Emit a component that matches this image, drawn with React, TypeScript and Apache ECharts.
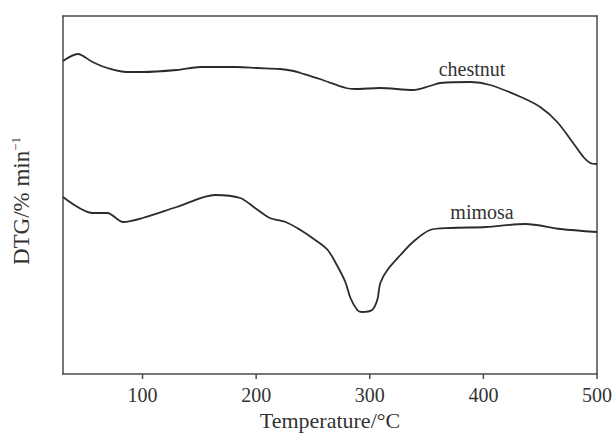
import React, { useEffect, useRef } from "react";
import * as echarts from "echarts";

// Temperature (°C) and DTG (arbitrary units)
const chestnutT = [30, 43, 56, 69, 86, 100, 130, 151, 183, 201, 221, 233, 239, 256, 279, 287, 309, 338, 353, 362, 389, 406, 433, 450, 465, 479, 488, 494, 500];
const chestnutV = [313, 320, 312, 306, 302, 302, 304, 307, 307, 306, 305, 303, 301, 295, 286, 285, 286, 284, 288, 291, 292, 289, 277, 267, 252, 231, 217, 211, 210];

const mimosaT = [30, 56, 69, 83, 100, 130, 164, 186, 199, 212, 226, 239, 252, 263, 271, 278.5, 283, 289, 293, 302, 306.6, 309.3, 315.5, 327, 338, 353, 371, 402, 437, 468, 500];
const mimosaV = [177, 161, 161, 152, 156, 167, 179, 176, 166, 156, 152, 144, 134, 124, 109, 92, 76, 64, 62, 64, 74, 91, 104, 119, 132, 144, 146, 147, 150, 145, 142];

const xTicks = [100, 200, 300, 400, 500];
const seriesNames = ["chestnut", "mimosa"];

const FONT = "'Liberation Serif', 'Times New Roman', serif";

export default function App() {
  const ref = useRef<HTMLDivElement>(null);
  useEffect(() => {
    if (!ref.current) return;
    const chart = echarts.init(ref.current, undefined, { renderer: "svg" });
    const lineStyle = { color: "#2b2b2b", width: 1.8 };
    const axisLineStyle = { color: "#4a4a4a", width: 1.5 };
    const hiddenAxisParts = {
      axisTick: { show: false },
      axisLabel: { show: false },
      splitLine: { show: false },
    };
    chart.setOption({
      animation: false,
      backgroundColor: "#ffffff",
      grid: { left: 63, right: 17, top: 16, bottom: 59, containLabel: false, outerBoundsMode: "none" },
      xAxis: [
        {
          type: "value",
          min: 30,
          max: 500,
          position: "bottom",
          name: "Temperature/°C",
          nameLocation: "middle",
          nameGap: 35,
          nameTextStyle: { fontFamily: FONT, fontSize: 22, color: "#333" },
          axisLine: { show: true, onZero: false, lineStyle: axisLineStyle },
          axisTick: { show: false },
          axisLabel: {
            fontFamily: FONT,
            fontSize: 20,
            color: "#333",
            margin: 11,
            customValues: xTicks,
          },
          splitLine: { show: false },
        },
        {
          type: "value",
          min: 30,
          max: 500,
          position: "top",
          axisLine: { show: true, onZero: false, lineStyle: axisLineStyle },
          ...hiddenAxisParts,
        },
      ],
      yAxis: [
        {
          type: "value",
          min: 0,
          max: 358,
          position: "left",
          name: "{a|DTG/% min}{b|−1}",
          nameLocation: "middle",
          nameGap: 30,
          nameTextStyle: {
            fontFamily: FONT,
            color: "#333",
            padding: [0, 12, 0, 0],
            rich: {
              a: { fontFamily: FONT, fontSize: 23, color: "#333", lineHeight: 24 },
              b: { fontFamily: FONT, fontSize: 13, color: "#333", verticalAlign: "top", lineHeight: 13 },
            },
          },
          axisLine: { show: true, onZero: false, lineStyle: axisLineStyle },
          ...hiddenAxisParts,
        },
        {
          type: "value",
          min: 0,
          max: 358,
          position: "right",
          axisLine: { show: true, onZero: false, lineStyle: axisLineStyle },
          ...hiddenAxisParts,
        },
      ],
      series: [
        {
          name: seriesNames[0],
          type: "line",
          xAxisIndex: 0,
          yAxisIndex: 0,
          data: chestnutT.map((t, i) => [t, chestnutV[i]]),
          showSymbol: false,
          smooth: 0.3,
          lineStyle,
        },
        {
          name: seriesNames[1],
          type: "line",
          xAxisIndex: 0,
          yAxisIndex: 0,
          data: mimosaT.map((t, i) => [t, mimosaV[i]]),
          showSymbol: false,
          smooth: 0.3,
          lineStyle,
        },
      ],
    });
    // tick marks placed through the axis scale
    const y0 = chart.convertToPixel({ yAxisIndex: 0 }, 0) as number;
    const tickGraphics = xTicks.map((v) => {
      const px = chart.convertToPixel({ xAxisIndex: 0 }, v) as number;
      return {
        type: "line",
        shape: { x1: px, y1: y0, x2: px, y2: y0 + 5 },
        style: { stroke: "#4a4a4a", lineWidth: 1.5 },
        z: 10,
      };
    });
    const labelGraphics = [
      { text: seriesNames[0], x: 472, y: 69 },
      { text: seriesNames[1], x: 482, y: 212 },
    ].map((l) => ({
      type: "text",
      x: l.x,
      y: l.y,
      style: {
        text: l.text,
        fontFamily: FONT,
        fontSize: 20,
        fill: "#333",
        align: "center",
        verticalAlign: "middle",
      },
    }));
    chart.setOption({ graphic: [...labelGraphics, ...tickGraphics] });
    return () => chart.dispose();
  }, []);
  return <div ref={ref} style={{ width: 614, height: 433, position: "fixed", left: 0, top: 0 }} />;
}
